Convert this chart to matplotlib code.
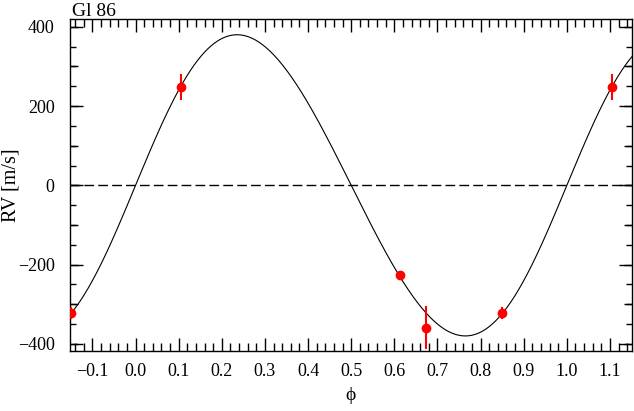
import numpy as np
import matplotlib
matplotlib.use("Agg")
import matplotlib.pyplot as plt
from matplotlib.ticker import MultipleLocator

plt.rcParams['font.family'] = ['Liberation Serif', 'DejaVu Serif']
plt.rcParams['mathtext.fontset'] = 'stix'

# Observations (phase, RV [m/s], error [m/s])
obs_phase = [0.1055, 0.613, 0.674, 0.850]
obs_rv = [248, -226, -359, -322]
obs_err = [33, 6, 54, 15]

# Orbital model parameters (Keplerian)
K_amp = 380.0
ecc = 0.046
omega_deg = 270.0

title_text = "Gl 86"
xlabel_text = "ϕ"
ylabel_text = "RV [m/s]"
xlim = (-0.152, 1.151)
ylim = (-418, 421)


def kepler_rv(phase):
    M = 2 * np.pi * phase
    E = M.copy()
    for _ in range(30):
        E = E - (E - ecc * np.sin(E) - M) / (1 - ecc * np.cos(E))
    nu = 2 * np.arctan2(np.sqrt(1 + ecc) * np.sin(E / 2), np.sqrt(1 - ecc) * np.cos(E / 2))
    w = np.radians(omega_deg)
    return K_amp * (np.cos(nu + w) + ecc * np.cos(w))


fig = plt.figure(figsize=(6.34, 4.11), dpi=100)
rect = [70 / 634, 1 - 351 / 411, 562 / 634, 332.5 / 411]

# medium ticks every 100 on y (separate overlay axes, not shared)
ax2 = fig.add_axes(rect, frameon=False)
ax2.set_xlim(*xlim)
ax2.set_ylim(*ylim)
ax2.set_xticks([])
ax2.yaxis.set_major_locator(MultipleLocator(100))
ax2.tick_params(axis='y', which='major', direction='in', left=True, right=True,
                length=6, width=1.0, labelleft=False, labelright=False)
ax2.patch.set_visible(False)

ax = fig.add_axes(rect)
ax.patch.set_visible(False)

ph = np.linspace(xlim[0], xlim[1], 800)
ax.plot(ph, kepler_rv(ph), color='black', lw=0.8)
ax.axhline(0, color='black', lw=1.0, dashes=(7, 3))

# repeat observations over the plotted phase range
px, py, pe = [], [], []
for shift in (-1, 0, 1):
    for p, v, e in zip(obs_phase, obs_rv, obs_err):
        q = p + shift
        if xlim[0] - 0.02 <= q <= xlim[1] + 0.02:
            px.append(q); py.append(v); pe.append(e)
ax.errorbar(px, py, yerr=pe, fmt='o', color='red', ms=6, elinewidth=1.5,
            capsize=0, mec='red', mfc='red', zorder=5)

ax.set_xlim(*xlim)
ax.set_ylim(*ylim)

ax.xaxis.set_minor_locator(MultipleLocator(0.02))
ax.yaxis.set_major_locator(MultipleLocator(200))
ax.yaxis.set_minor_locator(MultipleLocator(50))
xt = np.round(np.arange(-0.1, 1.15, 0.1), 1)
ax.set_xticks(xt)
ax.set_xticklabels([f"{v:.1f}".replace('-', '\u2212') for v in xt])

ax.tick_params(which='both', direction='in', top=True, right=True, width=1.0, colors='black')
ax.tick_params(which='major', length=9.5, labelsize=13)
ax.tick_params(axis='y', which='major', pad=11)
ax.tick_params(axis='x', which='major', pad=9)
ax.tick_params(which='minor', length=5.5)
ax.tick_params(axis='y', which='minor', length=4)

for s in ax.spines.values():
    s.set_linewidth(1.0)

ax.set_xlabel(xlabel_text, fontsize=14, labelpad=5)
fig.text(11 / 634, 1 - 185 / 411, ylabel_text, fontsize=14.5, rotation=90,
         ha='center', va='center')
fig.text(72 / 634, 1 - 16 / 411, title_text, fontsize=14, ha='left', va='baseline')

fig.savefig("out.png", dpi=100)
